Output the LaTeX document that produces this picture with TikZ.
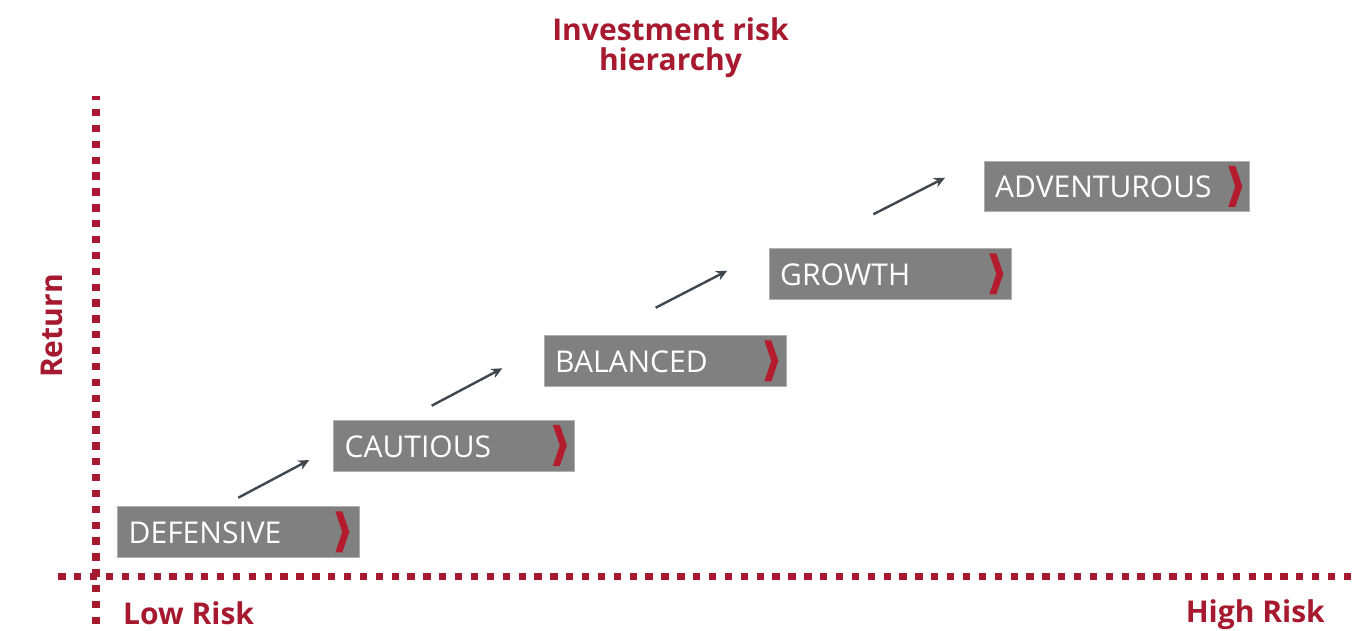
\documentclass[tikz,border=0pt]{standalone}
\usepackage{fontspec}
\setmainfont{Open Sans}
\usetikzlibrary{arrows.meta,calc}
\definecolor{rred}{RGB}{166,25,46}
\definecolor{chevred}{RGB}{180,28,46}
\definecolor{boxgray}{RGB}{128,128,128}
\definecolor{boxedge}{RGB}{175,175,175}
\definecolor{arrowgray}{RGB}{62,70,78}
\begin{document}
\begin{tikzpicture}[x=1pt,y=-1pt,
  riskbox/.style={draw=boxedge,line width=0.8pt,fill=boxgray,minimum height=51pt,inner sep=0pt,anchor=north west},
  boxtext/.style={text=white,font=\fontsize{30}{36}\selectfont,anchor=base west,inner sep=0pt},
  chevron/.style={fill=chevred,draw=none},
  steparrow/.style={draw=arrowgray,line width=2.4pt,-{Stealth[length=11pt,width=10pt]}},
  axisline/.style={draw=rred,line width=7.3pt,dash pattern=on 7.3pt off 8.57pt},
  axislabel/.style={text=rred,font=\bfseries\fontsize{30}{36}\selectfont,inner sep=0pt},
  titletext/.style={text=rred,font=\bfseries\fontsize{30}{36}\selectfont,inner sep=0pt,anchor=base}]
\useasboundingbox (0,0) rectangle (1354,631);

% axes
\draw[axisline,dash phase=2.87pt] (96,96) -- (96,624.5);
\draw[axisline] (58.3,576.3) -- (1354,576.3);

% title
\node[titletext] (title1) at (670.5,41) {Investment risk};
\node[titletext] (title2) at (670.5,71) {hierarchy};

% axis labels
\node[axislabel,anchor=base west] (low) at (123,624) {Low Risk};
\node[axislabel,anchor=base east] (high) at (1325,622) {High Risk};
\node[axislabel,rotate=90,anchor=base] (ret) at (62,326) {Return};

% boxes
\node[riskbox,minimum width=242pt] (def) at (117,506) {};
\node[riskbox,minimum width=241pt] (cau) at (333,419.5) {};
\node[riskbox,minimum width=242pt] (bal) at (543.5,335) {};
\node[riskbox,minimum width=242pt] (gro) at (768.5,248) {};
\node[riskbox,minimum width=265pt,minimum height=50pt] (adv) at (983.5,161) {};

% texts
\node[boxtext] (deft) at ($(def.south west)+(11.5,-14)$) {DEFENSIVE};
\node[boxtext] (caut) at ($(cau.south west)+(11.5,-14)$) {CAUTIOUS};
\node[boxtext] (balt) at ($(bal.south west)+(11.5,-14)$) {BALANCED};
\node[boxtext] (grot) at ($(gro.south west)+(11.5,-14)$) {GROWTH};
\node[boxtext] (advt) at ($(adv.south west)+(11.5,-14)$) {ADVENTUROUS};

% chevrons
\foreach \b/\o in {def/-24.5,cau/-22,bal/-22,gro/-22,adv/-21}{
  \fill[chevron] ($(\b.east)+(\o,0)$) ++(0,-20.5) -- ++(7,0) -- ++(7,20.5) -- ++(-7,20.5) -- ++(-7,0) -- ++(7,-20.5) -- cycle;
}

% arrows
\coordinate (a1s) at (238.3,497.7);
\coordinate (a1e) at (309.3,460);
\coordinate (a2s) at (431.7,405.7);
\coordinate (a2e) at (502.3,368.3);
\coordinate (a3s) at (655.7,307.7);
\coordinate (a3e) at (727.3,270.7);
\coordinate (a4s) at (873.3,214.3);
\coordinate (a4e) at (945,177.7);
\draw[steparrow] (a1s) -- (a1e);
\draw[steparrow] (a2s) -- (a2e);
\draw[steparrow] (a3s) -- (a3e);
\draw[steparrow] (a4s) -- (a4e);
\end{tikzpicture}
\end{document}
